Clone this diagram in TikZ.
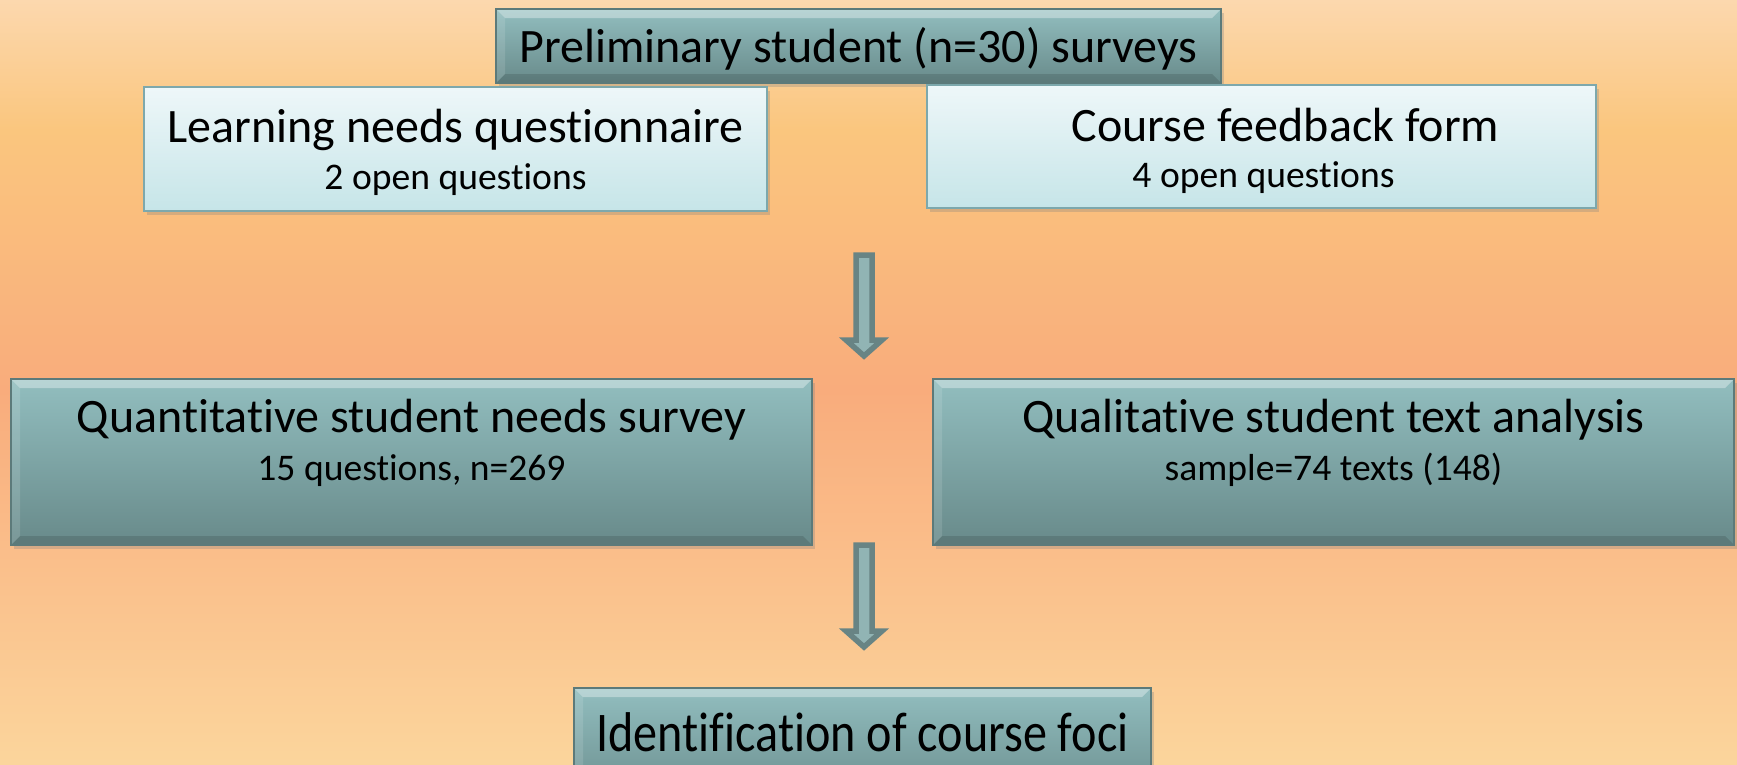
\documentclass[tikz,border=0pt]{standalone}
\usepackage{fontspec}
\setmainfont[Ligatures=NoCommon]{Carlito}
\newfontfamily\identfont[Ligatures=NoCommon, FakeStretch=0.86]{Carlito}
\usepackage{tikz}
\usetikzlibrary{shadows, positioning, calc}
\definecolor{bgtop}{RGB}{252,216,174}
\definecolor{bgyel}{RGB}{250,198,126}
\definecolor{bgmid}{RGB}{249,172,124}
\definecolor{bgbot}{RGB}{251,213,156}
\definecolor{tealtop}{RGB}{146,190,191}
\definecolor{tealbot}{RGB}{104,138,138}
\definecolor{tealline}{RGB}{92,122,122}
\definecolor{paletop}{RGB}{238,247,249}
\definecolor{palebot}{RGB}{198,229,232}
\definecolor{paleline}{RGB}{125,168,172}
\definecolor{arrowline}{RGB}{104,132,132}
\definecolor{arrowfill}{RGB}{145,180,180}
\pgfdeclareverticalshading{peach}{100bp}{color(0bp)=(bgbot); color(25bp)=(bgbot);
  color(49.5bp)=(bgmid); color(66.5bp)=(bgyel); color(75bp)=(bgtop); color(100bp)=(bgtop)}

\begin{document}
\begin{tikzpicture}[
    x=1pt, y=-1pt,
    darkbox/.style={rectangle, draw=tealline, line width=1.5pt, top color=tealtop, bottom color=tealbot,
                    drop shadow={shadow xshift=3pt, shadow yshift=-4pt, opacity=0.3},
                    path picture={
                      \fill[white, opacity=0.35] (path picture bounding box.north west) -- (path picture bounding box.north east)
                        -- ([xshift=-9pt, yshift=-9pt]path picture bounding box.north east) -- ([xshift=9pt, yshift=-9pt]path picture bounding box.north west) -- cycle;
                      \fill[white, opacity=0.12] (path picture bounding box.north west) -- ([xshift=9pt, yshift=-9pt]path picture bounding box.north west)
                        -- ([xshift=9pt, yshift=9pt]path picture bounding box.south west) -- (path picture bounding box.south west) -- cycle;
                      \fill[black, opacity=0.12] (path picture bounding box.south west) -- (path picture bounding box.south east)
                        -- ([xshift=-9pt, yshift=9pt]path picture bounding box.south east) -- ([xshift=9pt, yshift=9pt]path picture bounding box.south west) -- cycle;
                    }},
    palebox/.style={rectangle, draw=paleline, line width=2.5pt, top color=paletop, bottom color=palebot,
                    drop shadow={shadow xshift=3pt, shadow yshift=-4pt, opacity=0.3}},
    title/.style={anchor=base, inner sep=0pt, font=\fontsize{48}{57}\selectfont},
    sub/.style={anchor=base, inner sep=0pt, font=\fontsize{37.6}{45}\selectfont},
    blockarrow/.style={draw=arrowline, fill=arrowfill, line width=5.5pt}
]
    \shade[shading=peach] (0,0) rectangle (1737,764);
    \useasboundingbox (0,0) rectangle (1737,764);

    % first row
    \node[darkbox, minimum width=725, minimum height=74] (prelim) at (858.5,46) {};
    \node[title] (prelimtxt) at ($(prelim.north)+(0,54)$) {Preliminary student (n=30) surveys};

    \node[palebox, minimum width=623, minimum height=124] (learn) at (455.5,149) {};
    \node[title] (learntxt) at ($(learn.north)+(0,57)$) {Learning needs questionnaire};
    \node[sub] (learnsub) at ($(learn.north)+(0,104)$) {2 open questions};

    \node[palebox, minimum width=669, minimum height=123] (course) at (1261.5,146.5) {};
    \node[title] (coursetxt) at ($(course.north)+(24,58)$) {Course feedback form};
    \node[sub] (coursesub) at ($(course.north)+(2,104)$) {4 open questions};

    % second row
    \node[darkbox, minimum width=801, minimum height=166] (quant) at (411.5,462) {};
    \node[title] (quanttxt) at ($(quant.north)+(0,54)$) {Quantitative student needs survey};
    \node[sub] (quantsub) at ($(quant.north)+(0,102)$) {15 questions, n=269};

    \node[darkbox, minimum width=801, minimum height=166] (qual) at (1333.5,462) {};
    \node[title] (qualtxt) at ($(qual.north)+(0,54)$) {Qualitative student text analysis};
    \node[sub] (qualsub) at ($(qual.north)+(0,102)$) {sample=74 texts (148)};

    % result
    \node[darkbox, minimum width=577, minimum height=120] (ident) at (862.5,748) {};
    \node[anchor=base, inner sep=0pt, font=\identfont\fontsize{56}{66}\selectfont] (identtxt)
        at ($(ident.north)+(0,64)$) {Identification of course foci};

    % block arrows
    \coordinate (a1s) at (864,255);
    \coordinate (a1e) at (864,356);
    \draw[blockarrow] ($(a1s)+(-8,0)$) -- ($(a1s)+(8,0)$) -- ($(a1e)+(8,-16)$) -- ($(a1e)+(18,-16)$)
        -- (a1e) -- ($(a1e)+(-18,-16)$) -- ($(a1e)+(-8,-16)$) -- cycle;
    \coordinate (a2s) at (864,545);
    \coordinate (a2e) at (864,647);
    \draw[blockarrow] ($(a2s)+(-8,0)$) -- ($(a2s)+(8,0)$) -- ($(a2e)+(8,-16)$) -- ($(a2e)+(18,-16)$)
        -- (a2e) -- ($(a2e)+(-18,-16)$) -- ($(a2e)+(-8,-16)$) -- cycle;
\end{tikzpicture}
\end{document}
